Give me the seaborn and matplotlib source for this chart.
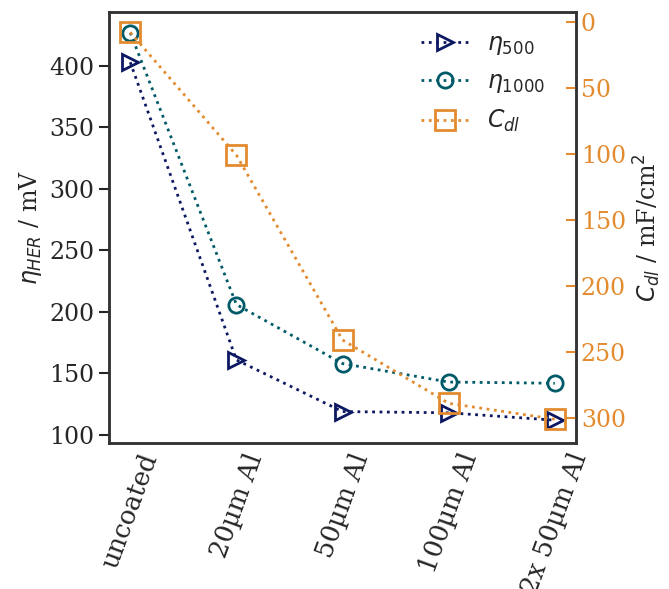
import matplotlib
matplotlib.use("Agg")
import matplotlib.pyplot as plt
import seaborn as sns
import pandas as pd

# coating variants
samples = ["uncoated", "20µm Al", "50µm Al", "100µm Al", "2x 50µm Al"]
# HER overpotential at 500 and 1000 (mV)
eta_500 = [403, 161, 119, 118, 112]
eta_1000 = [427, 206, 158, 143, 142]
# double-layer capacitance (mF/cm^2)
c_dl = [8, 101, 241, 289, 301]

navy = "#0c1862"
teal = "#005a68"
orange = "#e38b2f"

sns.set_style("ticks")
plt.rcParams["font.family"] = ["DejaVu Serif"]
plt.rcParams["mathtext.fontset"] = "dejavusans"
plt.rcParams["font.size"] = 17

df = pd.DataFrame({"sample": samples, "eta500": eta_500,
                   "eta1000": eta_1000, "cdl": c_dl})

fig, ax = plt.subplots(figsize=(6.69, 5.89), dpi=100)
fig.subplots_adjust(left=0.163, right=0.861, top=0.980, bottom=0.248)
ax2 = ax.twinx()

common = dict(linestyle=":", linewidth=2, fillstyle="none",
              markeredgewidth=2, sort=False)
sns.lineplot(data=df, x="sample", y="eta500", ax=ax, color=navy,
             marker=">", markersize=12, markeredgecolor=navy,
             label=r"$\eta_{500}$", legend=False, **common)
sns.lineplot(data=df, x="sample", y="eta1000", ax=ax, color=teal,
             marker="o", markersize=11, markeredgecolor=teal,
             label=r"$\eta_{1000}$", legend=False, **common)
sns.lineplot(data=df, x="sample", y="cdl", ax=ax2, color=orange,
             marker="s", markersize=14, markeredgecolor=orange,
             label=r"$C_{dl}$", legend=False, **common)

ax.set_xlim(-0.2, 4.2)
ax.set_ylim(93.5, 444)
ax2.set_ylim(319, -7.6)

ax.set_xlabel("")
ax.set_ylabel(r"$\eta_{HER}$ / mV", fontsize=17)
ax2.set_ylabel(r"$C_{dl}$ / mF/cm$^2$", fontsize=17)

ax.set_yticks([100, 150, 200, 250, 300, 350, 400])
ax2.set_yticks([0, 50, 100, 150, 200, 250, 300])
ax.tick_params(axis="y", labelsize=17, length=7, width=1.5, direction="out")
ax2.tick_params(axis="y", labelsize=17, length=7, width=1.5, direction="in",
                colors=orange)
ax.tick_params(axis="x", labelsize=18.5, length=0, pad=5)
for lab in ax.get_xticklabels():
    lab.set_rotation(70)
    lab.set_ha("center")

for a in (ax, ax2):
    for sp in a.spines.values():
        sp.set_color("#333333")
        sp.set_linewidth(1.8)

h1, l1 = ax.get_legend_handles_labels()
h2, l2 = ax2.get_legend_handles_labels()
ax.legend(h1 + h2, l1 + l2, loc="upper right", bbox_to_anchor=(1.0, 1.024),
          frameon=False, fontsize=17, handlelength=2.0, borderaxespad=0.9,
          labelspacing=0.55)

fig.savefig("out.png", dpi=100)
